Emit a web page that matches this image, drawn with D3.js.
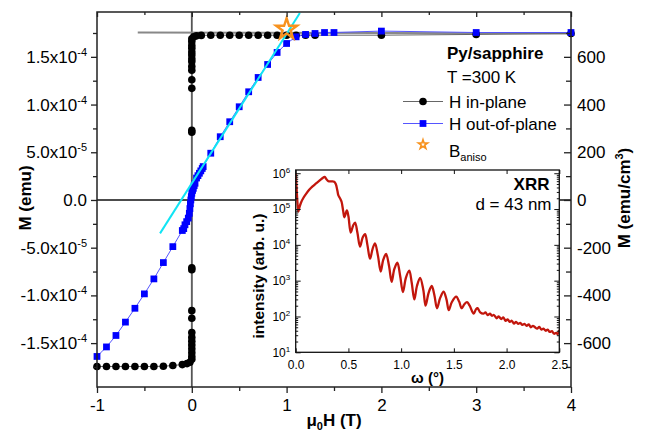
<!DOCTYPE html>
<html><head><meta charset="utf-8">
<script src="https://cdn.jsdelivr.net/npm/d3@7"></script>
<style>
body{margin:0;background:#fff}
svg text{font-family:Arial,"Liberation Sans",Helvetica,sans-serif;fill:#000}
</style></head>
<body><svg id="c" width="652" height="433"></svg>
<script>
// ---------------- data ----------------
const inPlaneH = [-1,-0.9,-0.8,-0.7,-0.6,-0.5,-0.4,-0.3,-0.2,-0.1,-0.05,-0.02,
  0,0,0,0,0,0,0,0,0,0,0,0,
  0,0,0,0,0,0,0,0,0,0,0,0,0,0,
  0.02,0.05,0.1,0.2,0.3,0.4,0.5,0.6,0.7,0.8,0.9,1.0,1.1,1.2,1.3,2,3,4];
const inPlaneM = [-1.745e-4,-1.745e-4,-1.745e-4,-1.745e-4,-1.745e-4,-1.745e-4,-1.745e-4,-1.742e-4,-1.735e-4,-1.725e-4,-1.715e-4,-1.70e-4,
  -1.67e-4,-1.64e-4,-1.60e-4,-1.56e-4,-1.52e-4,-1.48e-4,-1.44e-4,-1.39e-4,-1.24e-4,-1.16e-4,-7.3e-5,-7.1e-5,
  7.1e-5,7.3e-5,1.17e-4,1.26e-4,1.36e-4,1.40e-4,1.45e-4,1.48e-4,1.52e-4,1.55e-4,1.59e-4,1.62e-4,1.66e-4,1.69e-4,
  1.71e-4,1.72e-4,1.725e-4,1.727e-4,1.727e-4,1.727e-4,1.727e-4,1.727e-4,1.727e-4,1.727e-4,1.727e-4,1.727e-4,1.727e-4,1.727e-4,1.727e-4,1.727e-4,1.735e-4,1.745e-4];

const outPlaneH = [-1,-0.9,-0.8,-0.7,-0.6,-0.5,-0.4,-0.3,-0.2,-0.1,
  -0.085,-0.072,-0.054,-0.037,-0.026,-0.02,-0.015,-0.01,-0.005,0,0.008,0.016,0.025,0.034,0.05,0.065,0.08,0.095,0.11,0.12,
  0.2,0.3,0.4,0.5,0.6,0.7,0.8,0.9,1.0,1.1,1.2,1.3,1.4,1.5,2,3,4];
const outPlaneM = [-1.64e-4,-1.54e-4,-1.42e-4,-1.28e-4,-1.135e-4,-0.984e-4,-0.827e-4,-0.656e-4,-0.489e-4,-0.32e-4,
  -3.0e-5,-2.6e-5,-2.27e-5,-1.9e-5,-1.4e-5,-9e-6,-4e-6,0,3.5e-6,7e-6,1.0e-5,1.22e-5,1.5e-5,1.75e-5,2.3e-5,2.55e-5,2.8e-5,3.05e-5,3.3e-5,3.5e-5,
  4.9e-5,6.63e-5,8.2e-5,9.77e-5,1.134e-4,1.284e-4,1.42e-4,1.546e-4,1.64e-4,1.71e-4,1.735e-4,1.745e-4,1.755e-4,1.755e-4,1.77e-4,1.755e-4,1.755e-4];

const fitH = [-0.335, 1.14];
const fitM = [-3.5e-5, 1.96e-4];
const satH = [-0.57, 4];
const satM = [1.755e-4, 1.745e-4];
const anisoH = [1.0];
const anisoM = [1.79e-4];

const hTickValues = [-1,0,1,2,3,4];
const hTickLabels = ["-1","0","1","2","3","4"];
const hMinorTicks = [-0.5,0.5,1.5,2.5,3.5];
const mTickValues = [-1.5e-4,-1e-4,-5e-5,0,5e-5,1e-4,1.5e-4];
const mTickLabels = [["-1.5x10","-4"],["-1.0x10","-4"],["-5.0x10","-5"],["0.0",""],["5.0x10","-5"],["1.0x10","-4"],["1.5x10","-4"]];
const mMinorTicks = [-1.75e-4,-1.25e-4,-7.5e-5,-2.5e-5,2.5e-5,7.5e-5,1.25e-4,1.75e-4];
const mvTickValues = [-600,-400,-200,0,200,400,600];
const mvTickLabels = ["-600","-400","-200","0","200","400","600"];
const mvMinorTicks = [-700,-500,-300,-100,100,300,500,700];
const volumeFactor = 4e6; // emu -> emu/cm^3

// XRR inset
const xrrOmega = [0.000,0.008,0.016,0.025,0.035,0.050,0.075,0.100,0.130,0.160,0.190,0.220,0.250,0.275,0.290,0.310,0.340,0.365,0.380,0.395,
  0.405,0.420,0.435,0.450,0.462,0.485,0.500,0.522,0.545,0.563,0.585,0.610,0.635,0.658,0.680,0.705,0.730,0.752,0.780,0.806,
  0.830,0.857,0.885,0.910,0.935,0.964,0.990,1.017,1.045,1.077,1.100,1.125,1.150,1.180,1.210,1.232,1.260,1.290,1.315,1.340,
  1.370,1.403,1.430,1.452,1.480,1.522,1.550,1.574,1.600,1.625,1.650,1.688,1.710,1.725,1.750,1.780,1.800,1.820,1.843,1.860,
  1.880,1.906,1.925,1.950,1.969,1.990,2.010,2.030,2.050,2.070,2.090,2.110,2.130,2.150,2.170,2.190,2.210,2.230,2.250,2.270,
  2.290,2.310,2.330,2.350,2.370,2.390,2.410,2.430,2.450,2.470,2.485,2.500];
const xrrIntensity = [1.0e6,4.0e5,1.6e5,8.5e4,1.1e5,1.5e5,2.1e5,2.7e5,3.5e5,4.3e5,5.1e5,6.0e5,7.1e5,7.9e5,6.9e5,6.0e5,5.9e5,5.8e5,5.0e5,3.3e5,
  2.4e5,2.0e5,1.6e5,8.9e4,5.9e4,9.1e4,6.3e4,2.2e4,3.5e4,4.2e4,2.2e4,8.9e3,1.6e4,2.0e4,1.0e4,4.1e3,7.9e3,1.1e4,5.0e3,1.8e3,
  3.8e3,5.6e3,2.6e3,9.3e2,2.1e3,3.2e3,1.4e3,4.8e2,1.2e3,1.9e3,8.9e2,3.0e2,7.1e2,1.2e3,5.6e2,2.0e2,4.5e2,7.1e2,4.0e2,1.7e2,
  3.3e2,4.9e2,3.0e2,1.5e2,2.5e2,3.6e2,2.6e2,1.7e2,2.2e2,2.5e2,2.0e2,1.2e2,1.6e2,1.7e2,1.3e2,1.2e2,1.3e2,1.1e2,1.2e2,1.05e2,
  1.1e2,89,100,85,95,76,83,71,76,63,71,62,66,58,62,55,60,50,55,50,
  46,51,43,46,40,43,37,39,33,35,32,42];
const omegaTicks = [0,0.5,1,1.5,2,2.5];
const omegaTickLabels = ["0.0","0.5","1.0","1.5","2.0","2.5"];
const intensityTicks = [1e1,1e2,1e3,1e4,1e5,1e6];
const intensityExponents = ["1","2","3","4","5","6"];

// ---------------- chart ----------------
const svg = d3.select("#c");
const L = 97, R = 571, T = 12, B = 387;
const x = d3.scaleLinear([-1,4],[L,R]);
const y = d3.scaleLinear([-1.96e-4,1.97e-4],[B,T]);
const yR = d3.scaleLinear(y.domain().map(v=>v*volumeFactor),[B,T]);

// reference lines
svg.append("line").attr("x1",x(0)).attr("x2",x(0)).attr("y1",T).attr("y2",B)
  .attr("stroke","#555").attr("stroke-width",1.8);
svg.append("line").attr("x1",L).attr("x2",R).attr("y1",y(0)).attr("y2",y(0))
  .attr("stroke","#111").attr("stroke-width",1.4);
svg.append("path").attr("d",d3.line().x((d,i)=>x(satH[i])).y((d,i)=>y(satM[i]))(satH))
  .attr("fill","none").attr("stroke","#888").attr("stroke-width",2);

// series lines
const ipIdx = d3.range(inPlaneH.length), opIdx = d3.range(outPlaneH.length);
svg.append("path").attr("d",d3.line().x(i=>x(inPlaneH[i])).y(i=>y(inPlaneM[i]))(ipIdx))
  .attr("fill","none").attr("stroke","#666").attr("stroke-width",1);
svg.append("path").attr("d",d3.line().x(i=>x(outPlaneH[i])).y(i=>y(outPlaneM[i]))(opIdx))
  .attr("fill","none").attr("stroke","#5555ff").attr("stroke-width",1);

svg.append("g").selectAll("circle").data(ipIdx).join("circle")
  .attr("cx",i=>x(inPlaneH[i])).attr("cy",i=>y(inPlaneM[i])).attr("r",3.8).attr("fill","#000");
const sq = d3.symbol(d3.symbolSquare,46);
svg.append("g").selectAll("path").data(opIdx).join("path")
  .attr("d",sq).attr("transform",i=>`translate(${x(outPlaneH[i])},${y(outPlaneM[i])})`).attr("fill","#0000ff");

// linear fit
svg.append("path").attr("d",d3.line().x((d,i)=>x(fitH[i])).y((d,i)=>y(fitM[i]))(fitH))
  .attr("fill","none").attr("stroke","#10e4f4").attr("stroke-width",2);

// B_aniso star
const star = d3.symbol(d3.symbolStar,136);
svg.append("g").selectAll("path").data(anisoH).join("path")
  .attr("d",star).attr("transform",(d,i)=>`translate(${x(anisoH[i])},${y(anisoM[i])})`)
  .attr("fill","none").attr("stroke","#f7921e").attr("stroke-width",2.4).attr("stroke-linejoin","miter");

// frame
svg.append("rect").attr("x",L).attr("y",T).attr("width",R-L).attr("height",B-T)
  .attr("fill","none").attr("stroke","#222").attr("stroke-width",1.5);

const fs = "17px";
// bottom axis
const gb = svg.append("g").attr("transform",`translate(0,${B})`)
  .call(d3.axisBottom(x).tickValues(hTickValues).tickSize(6).tickPadding(6).tickFormat((d,i)=>hTickLabels[i]));
svg.append("g").attr("transform",`translate(0,${B})`)
  .call(d3.axisBottom(x).tickValues(hMinorTicks).tickSize(4).tickFormat(""));
// top ticks (inward)
svg.append("g").attr("transform",`translate(0,${T})`)
  .call(d3.axisTop(x).tickValues(hTickValues).tickSize(-5).tickFormat(""));
svg.append("g").attr("transform",`translate(0,${T})`)
  .call(d3.axisTop(x).tickValues(hMinorTicks).tickSize(-3).tickFormat(""));
// left axis
const gl = svg.append("g").attr("transform",`translate(${L},0)`)
  .call(d3.axisLeft(y).tickValues(mTickValues).tickSize(6).tickPadding(4).tickFormat(""));
svg.append("g").attr("transform",`translate(${L},0)`)
  .call(d3.axisLeft(y).tickValues(mMinorTicks).tickSize(4).tickFormat(""));
gl.selectAll(".tick text").each(function(d){
  const i = mTickValues.indexOf(d);
  const t = d3.select(this);
  t.append("tspan").text(mTickLabels[i][0]);
  if (mTickLabels[i][1]) t.append("tspan").attr("dy",-7).attr("font-size","11px").text(mTickLabels[i][1]);
});
// right axis (inward ticks)
svg.append("g").attr("transform",`translate(${R},0)`)
  .call(d3.axisRight(yR).tickValues(mvTickValues).tickSize(-7).tickPadding(6).tickFormat((d,i)=>mvTickLabels[i]));
svg.append("g").attr("transform",`translate(${R},0)`)
  .call(d3.axisRight(yR).tickValues(mvMinorTicks).tickSize(-5).tickFormat(""));

svg.selectAll(".domain").remove();
svg.selectAll(".tick line").attr("stroke","#222").attr("stroke-width",1.3);
svg.selectAll(".tick text").attr("font-size",fs).attr("font-family","Arial,'Liberation Sans',sans-serif").attr("fill","#000");

// axis titles
svg.append("text").attr("transform","translate(31,198) rotate(-90)").attr("text-anchor","middle")
  .attr("font-size","17px").attr("font-weight","bold").text("M (emu)");
const rt = svg.append("text").attr("transform","translate(630,198) rotate(-90)").attr("text-anchor","middle")
  .attr("font-size","17px").attr("font-weight","bold");
rt.append("tspan").text("M (emu/cm");
rt.append("tspan").attr("dy",-7).attr("font-size","11px").text("3");
rt.append("tspan").attr("dy",7).text(")");
const bt = svg.append("text").attr("x",334).attr("y",426).attr("text-anchor","middle")
  .attr("font-size","17px").attr("font-weight","bold");
bt.append("tspan").text("μ");
bt.append("tspan").attr("dy",4).attr("font-size","11px").text("0");
bt.append("tspan").attr("dy",-4).text("H (T)");

// legend
svg.append("text").attr("x",447).attr("y",59).attr("font-size","17px").attr("font-weight","bold").text("Py/sapphire");
svg.append("text").attr("x",447).attr("y",83).attr("font-size","17px").text("T =300 K");
svg.append("line").attr("x1",403).attr("x2",443).attr("y1",101.5).attr("y2",101.5).attr("stroke","#666").attr("stroke-width",1);
svg.append("circle").attr("cx",423).attr("cy",101.5).attr("r",3.8).attr("fill","#000");
svg.append("text").attr("x",449).attr("y",107.5).attr("font-size","17px").text("H in-plane");
svg.append("line").attr("x1",403).attr("x2",443).attr("y1",123.5).attr("y2",123.5).attr("stroke","#5555ff").attr("stroke-width",1);
svg.append("path").attr("d",sq).attr("transform","translate(423,123.5)").attr("fill","#0000ff");
svg.append("text").attr("x",449).attr("y",129.5).attr("font-size","17px").text("H out-of-plane");
svg.append("path").attr("d",d3.symbol(d3.symbolStar,26)).attr("transform","translate(423,144.5)")
  .attr("fill","none").attr("stroke","#f7921e").attr("stroke-width",1.6);
const bl = svg.append("text").attr("x",449).attr("y",156.5).attr("font-size","17px");
bl.append("tspan").text("B");
bl.append("tspan").attr("dy",4).attr("font-size","11px").text("aniso");

// ---------------- inset ----------------
const iL = 295.7, iR = 559.3, iT = 170, iB = 352.3;
const xi = d3.scaleLinear([0,2.5],[iL,iR]);
const yi = d3.scaleLog([10, Math.pow(10,6.09)],[iB,iT]);
const ins = svg.append("g");
ins.append("rect").attr("x",iL).attr("y",iT).attr("width",iR-iL).attr("height",iB-iT).attr("fill","#fff");
ins.append("clipPath").attr("id","ic").append("rect").attr("x",iL).attr("y",iT).attr("width",iR-iL).attr("height",iB-iT);
const xIdx = d3.range(xrrOmega.length);
ins.append("path").attr("clip-path","url(#ic)")
  .attr("d",d3.line().curve(d3.curveCatmullRom.alpha(0.5)).x(i=>xi(xrrOmega[i])).y(i=>yi(xrrIntensity[i]))(xIdx))
  .attr("fill","none").attr("stroke","#c2160c").attr("stroke-width",2.3).attr("stroke-linejoin","round");
ins.append("rect").attr("x",iL).attr("y",iT).attr("width",iR-iL).attr("height",iB-iT)
  .attr("fill","none").attr("stroke","#111").attr("stroke-width",1.3);

const logMinor = [];
[1,2,3,4,5].forEach(n=>{[2,3,4,5,6,7,8,9].forEach(m=>logMinor.push(m*Math.pow(10,n)));});
// bottom
const gib = ins.append("g").attr("transform",`translate(0,${iB})`)
  .call(d3.axisBottom(xi).tickValues(omegaTicks).tickSize(-4).tickPadding(8).tickFormat((d,i)=>omegaTickLabels[i]));
ins.append("g").attr("transform",`translate(0,${iT})`)
  .call(d3.axisTop(xi).tickValues(omegaTicks).tickSize(-4).tickFormat(""));
// left
const gil = ins.append("g").attr("transform",`translate(${iL},0)`)
  .call(d3.axisLeft(yi).tickValues(intensityTicks).tickSize(-5).tickPadding(5.5).tickFormat(""));
ins.append("g").attr("transform",`translate(${iL},0)`)
  .call(d3.axisLeft(yi).tickValues(logMinor).tickSize(-2.5).tickFormat(""));
ins.append("g").attr("transform",`translate(${iR},0)`)
  .call(d3.axisRight(yi).tickValues(intensityTicks).tickSize(-5).tickFormat(""));
ins.append("g").attr("transform",`translate(${iR},0)`)
  .call(d3.axisRight(yi).tickValues(logMinor).tickSize(-2.5).tickFormat(""));
gil.selectAll(".tick text").each(function(d){
  const i = intensityTicks.indexOf(d);
  const t = d3.select(this);
  t.append("tspan").text("10");
  t.append("tspan").attr("dy",-5).attr("font-size","8px").text(intensityExponents[i]);
});
ins.selectAll(".domain").remove();
ins.selectAll(".tick line").attr("stroke","#111").attr("stroke-width",1);
ins.selectAll(".tick text").attr("font-size","12px").attr("font-family","Arial,'Liberation Sans',sans-serif").attr("fill","#000");

ins.append("text").attr("x",427.5).attr("y",383).attr("text-anchor","middle")
  .attr("font-size","15px").attr("font-weight","bold").text("ω (°)");
ins.append("text").attr("transform","translate(264,276) rotate(-90)").attr("text-anchor","middle")
  .attr("font-size","15.5px").attr("font-weight","bold").text("intensity (arb. u.)");
ins.append("text").attr("x",549.5).attr("y",189.5).attr("text-anchor","end")
  .attr("font-size","17px").attr("font-weight","bold").text("XRR");
ins.append("text").attr("x",551.5).attr("y",209.5).attr("text-anchor","end")
  .attr("font-size","17px").text("d = 43 nm");
</script></body></html>
